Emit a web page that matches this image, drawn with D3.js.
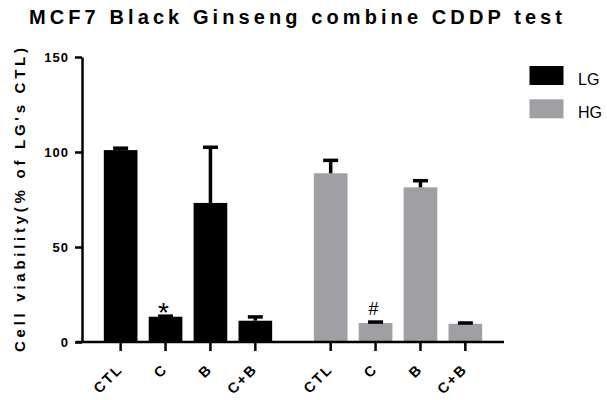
<!DOCTYPE html>
<html>
<head>
<meta charset="utf-8">
<script src="https://cdn.jsdelivr.net/npm/d3@7"></script>
<style>
  html, body { margin: 0; padding: 0; background: #fff; }
  svg { display: block; font-family: "Liberation Sans", Arial, sans-serif; }
</style>
</head>
<body>
<svg id="chart" width="607" height="400"></svg>
<script>
// Groups (glucose level) and treatments
const groups = ["LG", "HG"];
const treatments = ["CTL", "C", "B", "C+B"];

// Mean cell viability (% of LG's CTL) and SD for each group
const lgMeans = [101, 13.3, 73.2, 11.2];
const lgSD    = [1.0, 0.3, 29.3, 2.0];
const hgMeans = [88.8, 10.0, 81.4, 9.6];
const hgSD    = [6.8, 0.5, 3.5, 0.4];

// Significance marks above bars
const marks = [
  { group: "LG", treatment: "C", text: "*" },
  { group: "HG", treatment: "C", text: "#" }
];

const yTicks = [0, 50, 100, 150];
const colors = { LG: "#000000", HG: "#a09fa4" };

const titleText = "MCF7 Black Ginseng combine CDDP test";
const yTitleText = "Cell viability(% of LG's CTL)";

const svg = d3.select("#chart");

const rows = [];
groups.forEach((g, gi) => {
  const means = gi === 0 ? lgMeans : hgMeans;
  const sds = gi === 0 ? lgSD : hgSD;
  treatments.forEach((t, ti) => rows.push({ group: g, treatment: t, mean: means[ti], sd: sds[ti] }));
});

// Scales
const y = d3.scaleLinear().domain([0, 150]).range([342, 57]);
const xGroup = d3.scaleBand().domain(groups).range([98.2, 487.8]).paddingInner(0.145).paddingOuter(0);
const xInner = d3.scaleBand().domain(treatments).range([0, xGroup.bandwidth()]).paddingInner(0.25).paddingOuter(0.125);
const xPos = d => xGroup(d.group) + xInner(d.treatment);
const xMid = d => xPos(d) + xInner.bandwidth() / 2;

// Title
svg.append("text")
  .attr("x", 29).attr("y", 24)
  .attr("font-size", 20).attr("font-weight", "bold")
  .attr("textLength", 533).attr("lengthAdjust", "spacing")
  .text(titleText);

// Bars
svg.append("g").selectAll("rect").data(rows).join("rect")
  .attr("x", xPos)
  .attr("y", d => y(d.mean))
  .attr("width", xInner.bandwidth())
  .attr("height", d => y(0) - y(d.mean))
  .attr("fill", d => colors[d.group]);

// Error bars (upper only)
const eb = svg.append("g").attr("stroke", "#000");
eb.selectAll("line.v").data(rows).join("line").attr("class", "v")
  .attr("x1", xMid).attr("x2", xMid)
  .attr("y1", d => y(d.mean)).attr("y2", d => y(d.mean + d.sd))
  .attr("stroke-width", 3.5);
eb.selectAll("line.cap").data(rows).join("line").attr("class", "cap")
  .attr("x1", d => xMid(d) - 7.5).attr("x2", d => xMid(d) + 7.5)
  .attr("y1", d => y(d.mean + d.sd)).attr("y2", d => y(d.mean + d.sd))
  .attr("stroke-width", 3.5);

// Significance marks
svg.append("g").selectAll("text").data(marks).join("text")
  .attr("x", m => xGroup(m.group) + xInner(m.treatment) + xInner.bandwidth() / 2 - 2)
  .attr("y", m => {
    const r = rows.find(d => d.group === m.group && d.treatment === m.treatment);
    return y(r.mean + r.sd) + (m.text === "*" ? 6 : -7);
  })
  .attr("text-anchor", "middle")
  .attr("font-size", m => m.text === "*" ? 28 : 18)
  .text(m => m.text);

// Y axis
const yAxis = svg.append("g").attr("transform", "translate(82,0)")
  .call(d3.axisLeft(y).tickValues(yTicks).tickSize(7).tickSizeOuter(0).tickPadding(6));
yAxis.select(".domain").attr("stroke-width", 2.5);
yAxis.selectAll(".tick line").attr("stroke-width", 2.5);
yAxis.selectAll(".tick text")
  .attr("font-size", 13).attr("font-weight", "bold")
  .attr("font-family", "Liberation Sans, Arial, sans-serif")
  .attr("letter-spacing", 1).attr("fill", "#000");

// X axis line and ticks
svg.append("line")
  .attr("x1", 76).attr("x2", 504)
  .attr("y1", y(0)).attr("y2", y(0))
  .attr("stroke", "#000").attr("stroke-width", 2.5);
svg.append("g").selectAll("line").data(rows).join("line")
  .attr("x1", xMid).attr("x2", xMid)
  .attr("y1", y(0)).attr("y2", y(0) + 9)
  .attr("stroke", "#000").attr("stroke-width", 2.5);
svg.append("g").selectAll("text").data(rows).join("text")
  .attr("transform", d => `translate(${xMid(d) + 3},${370}) rotate(-45)`)
  .attr("text-anchor", "end")
  .attr("font-size", 14.5).attr("font-weight", "bold")
  .attr("letter-spacing", 2)
  .text(d => d.treatment);

// Y axis title
svg.append("text")
  .attr("transform", "translate(25,200) rotate(-90)")
  .attr("text-anchor", "middle")
  .attr("font-size", 15).attr("font-weight", "bold")
  .attr("textLength", 304).attr("lengthAdjust", "spacing")
  .text(yTitleText);

// Legend
const legend = svg.append("g");
groups.forEach((g, i) => {
  legend.append("rect")
    .attr("x", 529.5).attr("y", 66 + i * 33.3)
    .attr("width", 34).attr("height", 19)
    .attr("fill", colors[g]);
  legend.append("text")
    .attr("x", 578).attr("y", 85 + i * 33.3)
    .attr("font-size", 16)
    .text(g);
});
</script>
</body>
</html>
